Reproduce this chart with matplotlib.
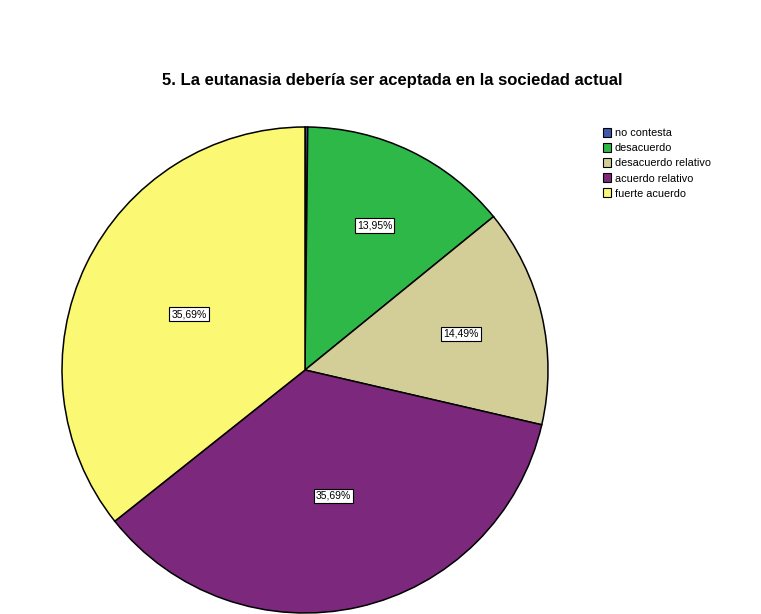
import numpy as np
import matplotlib
matplotlib.use("Agg")
import matplotlib.pyplot as plt
from matplotlib.patches import Patch

plt.rcParams["font.family"] = ["Liberation Sans", "DejaVu Sans"]

categorias = ["no contesta", "desacuerdo", "desacuerdo relativo",
              "acuerdo relativo", "fuerte acuerdo"]
porcentajes = [0.18, 13.95, 14.49, 35.69, 35.69]
colores = ["#3E58AC", "#2EB848", "#D3CE97", "#7C287D", "#FBF873"]
titulo = "5. La eutanasia debería ser aceptada en la sociedad actual"

fig = plt.figure(figsize=(7.61, 6.14), dpi=100)
ax = fig.add_axes([62 / 761, 1 / 614, 486 / 761, 486 / 614])
wedges, _ = ax.pie(porcentajes, colors=colores, startangle=90, counterclock=False,
                   radius=1, wedgeprops={"edgecolor": "black", "linewidth": 1.1})
ax.set_xlim(-1, 1); ax.set_ylim(-1, 1)
ax.set_aspect("equal")

# etiquetas de porcentaje (se omite la porción mínima)
dist = [0.0, 0.66, 0.66, 0.53, 0.53]
for w, v, d in zip(wedges, porcentajes, dist):
    if v < 1:
        continue
    ang = np.deg2rad((w.theta1 + w.theta2) / 2)
    ax.text(d * np.cos(ang), d * np.sin(ang), f"{v:.2f}%".replace(".", ","),
            ha="center", va="center", fontsize=7.5,
            bbox=dict(boxstyle="square,pad=0.2", fc="white", ec="black", lw=0.8))

fig.text(392 / 761, 1 - 81 / 614, titulo, ha="center", va="center",
         fontsize=12, fontweight="bold")

handles = [Patch(facecolor=c, edgecolor="black", linewidth=0.8) for c in colores]
fig.legend(handles, categorias, loc="upper left", bbox_to_anchor=(603 / 761, 1 - 128 / 614),
           frameon=False, fontsize=7.8, handlelength=0.75, handleheight=0.9,
           handletextpad=0.35, labelspacing=0.45, borderpad=0, borderaxespad=0)

fig.savefig("out.png", dpi=100, facecolor="white")
